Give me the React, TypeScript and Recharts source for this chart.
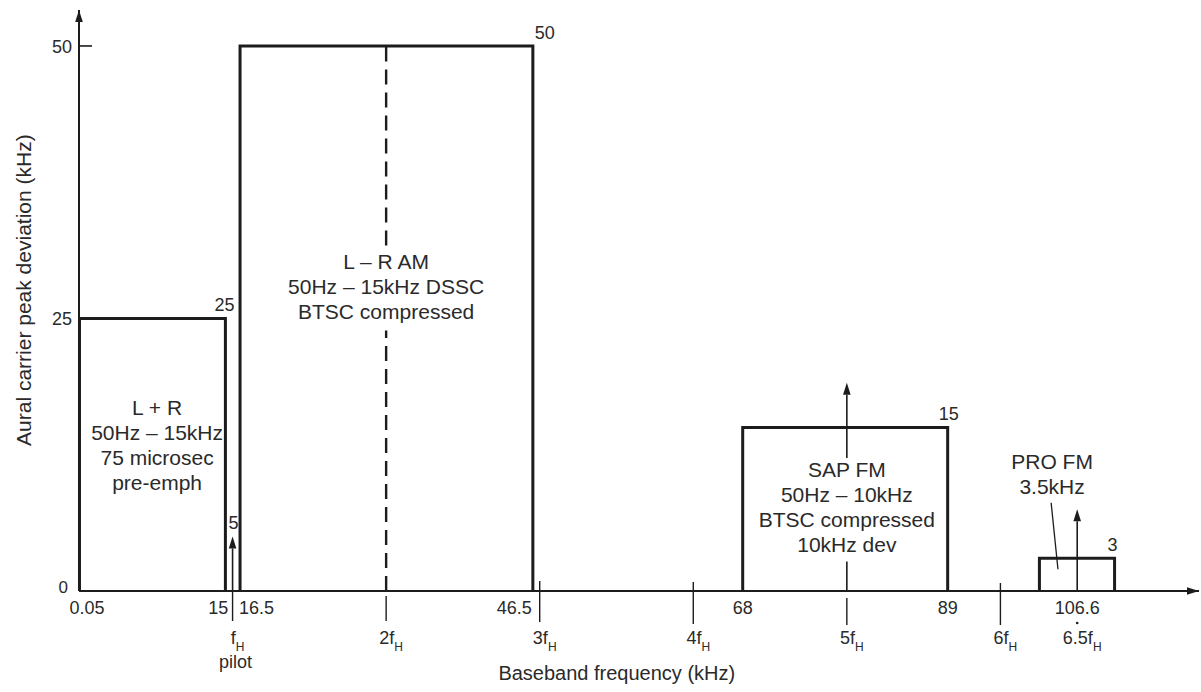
import React from 'react';
import { ComposedChart, XAxis, YAxis, Scatter, ReferenceLine, ReferenceDot } from 'recharts';

// horizontal line frequency (kHz)
const FH = 15.734;

// spectrum blocks: band edges (kHz) and peak deviation (kHz)
const blockStart = [0.05, 16.5, 68, 98.4];
const blockEnd = [15, 46.5, 89, 106.1];
const blockDeviation = [25, 50, 15, 3];
const blockText = [
  ['L + R', '50Hz – 15kHz', '75 microsec', 'pre-emph'],
  ['L – R AM', '50Hz – 15kHz DSSC', 'BTSC compressed'],
  ['SAP FM', '50Hz – 10kHz', 'BTSC compressed', '10kHz dev'],
  ['PRO FM', '3.5kHz'],
];

// pilot and sub-carrier arrows (harmonic of fH, arrow height)
const pilotDeviation = 5;
const carrierHarmonic = [1, 5, 6.5];
const carrierHeight = [pilotDeviation, 19.1, 7.5];

// axis ticks
const edgeTicks = [0.05, 15, 16.5, 46.5, 68, 89];
const edgeTickLabels = ['0.05', '15', '16.5', '46.5', '68', '89'];
const harmonicTicks = [1, 2, 3, 4, 5, 6, 6.5];
const harmonicTickLabels = ['f', '2f', '3f', '4f', '5f', '6f', '6.5f'];
const proCarrierLabel = '106.6';
const yTicks = [0, 25, 50];

const W = 1201;
const H = 692;
const X_MAX = 114.75;
const Y_MAX = 53.3;
const INK = '#1c1c1c';
const TEXT = '#2a2a2a';
const FONT = '"Liberation Sans", Arial, Helvetica, sans-serif';

// layout of the annotations (data coords)
const notePos = [[8.0, 16.8], [2 * FH, 30.2], [5 * FH, 11.1], [99.7, 11.8]];
const cornerDx = [-1, 12, 1, -2];
const dashGap = [23.9, 31.7];
const sapGap = [2.7, 12.2];
const leader = [{ x: 99.6, y: 8.1 }, { x: 100.3, y: 2.0 }];
// tick mark extent below(+)/above(-) the axis, px
const harmonicMark = [[0, 30], [5, 30], [-10, 31], [-9, 33], [7, 34], [-8, 34], [0, 0]];

const near = (a: number, b: number) => Math.abs(a - b) < 1e-6;

const XTick = (props: any) => {
  const { x, y, payload } = props;
  const v = payload.value;
  const ei = edgeTicks.findIndex((e) => near(e, v));
  if (ei >= 0) {
    const label = edgeTickLabels[ei];
    let anchor: 'start' | 'middle' | 'end' = 'middle';
    let dx = 0;
    if (ei === 0) { anchor = 'start'; dx = -10; }
    if (ei === 1) { anchor = 'end'; dx = 3; }
    if (ei === 2) { anchor = 'start'; dx = -1; }
    if (ei === 3) { anchor = 'end'; dx = -1; }
    return (
      <text x={x + dx} y={y + 23} textAnchor={anchor} fontSize={18} fontFamily={FONT} fill={TEXT}>
        {label}
      </text>
    );
  }
  const hi = harmonicTicks.findIndex((h) => near(h * FH, v));
  if (hi < 0) return null;
  const [t0, t1] = harmonicMark[hi];
  return (
    <g>
      {t1 > t0 ? (
        <line x1={x} y1={y + t0} x2={x} y2={y + t1} stroke={INK} strokeWidth={1.4} />
      ) : (
        <circle cx={x} cy={y + 32} r={1.3} fill={INK} />
      )}
      <text x={x + 5} y={y + 53} textAnchor="middle" fontSize={18} fontFamily={FONT} fill={TEXT}>
        <tspan>{harmonicTickLabels[hi]}</tspan>
        <tspan dy={7} fontSize={12}>H</tspan>
      </text>
      {hi === 0 && (
        <text x={x + 3} y={y + 77} textAnchor="middle" fontSize={18} fontFamily={FONT} fill={TEXT}>
          pilot
        </text>
      )}
      {hi === 6 && (
        <text x={x} y={y + 23} textAnchor="middle" fontSize={18} fontFamily={FONT} fill={TEXT}>
          {proCarrierLabel}
        </text>
      )}
    </g>
  );
};

const YTick = (props: any) => {
  const { x, y, payload } = props;
  const v = payload.value;
  if (v === 0) {
    return (
      <text x={x - 11} y={y + 2} textAnchor="end" fontSize={17} fontFamily={FONT} fill={TEXT}>
        0
      </text>
    );
  }
  return (
    <g>
      {v === 50 && <line x1={x} y1={y} x2={x + 13} y2={y} stroke={INK} strokeWidth={1.6} />}
      <text x={x - 7} y={y + 7} textAnchor="end" fontSize={18} fontFamily={FONT} fill={TEXT}>
        {v}
      </text>
    </g>
  );
};

const arrowShape = (p: any) => {
  const { x1, y1, x2, y2 } = p;
  const dx = x2 - x1;
  const dy = y2 - y1;
  const len = Math.hypot(dx, dy) || 1;
  const ux = dx / len;
  const uy = dy / len;
  const L = 12;
  const w = 3.8;
  const bx = x2 - ux * L;
  const by = y2 - uy * L;
  return (
    <g>
      <line x1={x1} y1={y1} x2={bx} y2={by} stroke={INK} strokeWidth={1.6} />
      <polygon
        points={`${x2},${y2} ${bx - uy * w},${by + ux * w} ${bx + uy * w},${by - ux * w}`}
        fill={INK}
      />
    </g>
  );
};

const noteShape = (lines: string[]) => (p: any) => (
  <text x={p.cx} y={p.cy} textAnchor="middle" fontSize={21} fontFamily={FONT} fill={TEXT}>
    {lines.map((l, i) => (
      <tspan key={i} x={p.cx} dy={i === 0 ? 7 : 25}>
        {l}
      </tspan>
    ))}
  </text>
);

const cornerShape = (label: string, dx: number) => (p: any) => (
  <text x={p.cx + dx} y={p.cy - 7} textAnchor="middle" fontSize={18} fontFamily={FONT} fill={TEXT}>
    {label}
  </text>
);

const App = () => {
  const boxes = blockStart.map((s, i) => [
    { x: s, y: 0 },
    { x: s, y: blockDeviation[i] },
    { x: blockEnd[i], y: blockDeviation[i] },
    { x: blockEnd[i], y: 0 },
  ]);
  const xTicks = [...edgeTicks, ...harmonicTicks.map((h) => h * FH)].sort((a, b) => a - b);

  return (
    <div style={{ position: 'absolute', left: 0, top: 0, width: W, height: H, overflow: 'hidden', background: '#fff' }}>
      <ComposedChart width={W} height={H} margin={{ top: 10, right: 2, bottom: 0, left: 0 }}>
        <XAxis
          type="number"
          dataKey="x"
          domain={[0, X_MAX]}
          ticks={xTicks}
          interval={0}
          height={101}
          tickSize={0}
          tickMargin={0}
          tickLine={false}
          axisLine={{ stroke: INK, strokeWidth: 2 }}
          tick={<XTick />}
        />
        <YAxis
          type="number"
          dataKey="y"
          domain={[0, Y_MAX]}
          ticks={yTicks}
          interval={0}
          width={79}
          tickSize={0}
          tickMargin={0}
          tickLine={false}
          axisLine={{ stroke: INK, strokeWidth: 2 }}
          tick={<YTick />}
        />

        {boxes.map((pts, i) => (
          <Scatter
            key={i}
            data={pts}
            line={{ stroke: INK, strokeWidth: 3 }}
            shape={() => <g />}
            isAnimationActive={false}
          />
        ))}

        {/* dashed carrier of L-R, broken around the text */}
        <ReferenceLine
          segment={[{ x: 2 * FH, y: 0 }, { x: 2 * FH, y: dashGap[0] }]}
          stroke={INK}
          strokeWidth={2.4}
          strokeDasharray="15 8"
        />
        <ReferenceLine
          segment={[{ x: 2 * FH, y: dashGap[1] }, { x: 2 * FH, y: blockDeviation[1] }]}
          stroke={INK}
          strokeWidth={2.4}
          strokeDasharray="15 8"
        />

        {/* carrier arrows */}
        <ReferenceLine
          segment={[{ x: carrierHarmonic[0] * FH, y: 0 }, { x: carrierHarmonic[0] * FH, y: carrierHeight[0] }]}
          shape={arrowShape}
        />
        <ReferenceLine
          segment={[{ x: carrierHarmonic[1] * FH, y: 0 }, { x: carrierHarmonic[1] * FH, y: sapGap[0] }]}
          stroke={INK}
          strokeWidth={1.6}
        />
        <ReferenceLine
          segment={[{ x: carrierHarmonic[1] * FH, y: sapGap[1] }, { x: carrierHarmonic[1] * FH, y: carrierHeight[1] }]}
          shape={arrowShape}
        />
        <ReferenceLine
          segment={[{ x: carrierHarmonic[2] * FH, y: 0 }, { x: carrierHarmonic[2] * FH, y: carrierHeight[2] }]}
          shape={arrowShape}
        />
        <ReferenceLine segment={leader} stroke={INK} strokeWidth={1.3} />

        {/* axis arrow heads */}
        <ReferenceLine segment={[{ x: 0, y: Y_MAX - 1.2 }, { x: 0, y: Y_MAX }]} shape={arrowShape} ifOverflow="visible" />
        <ReferenceLine segment={[{ x: X_MAX - 1.2, y: 0 }, { x: X_MAX, y: 0 }]} shape={arrowShape} ifOverflow="visible" />

        {/* block texts */}
        {blockText.map((lines, i) => (
          <ReferenceDot key={`n${i}`} x={notePos[i][0]} y={notePos[i][1]} r={0} shape={noteShape(lines)} ifOverflow="visible" />
        ))}

        {/* corner values */}
        {blockEnd.map((e, i) => (
          <ReferenceDot
            key={`c${i}`}
            x={e}
            y={blockDeviation[i]}
            r={0}
            shape={cornerShape(String(blockDeviation[i]), cornerDx[i])}
            ifOverflow="visible"
          />
        ))}
        <ReferenceDot
          x={carrierHarmonic[0] * FH}
          y={pilotDeviation}
          r={0}
          shape={cornerShape(String(pilotDeviation), 1)}
          ifOverflow="visible"
        />

        {/* axis titles */}
        <ReferenceDot
          x={55.1}
          y={-8.2}
          r={0}
          ifOverflow="visible"
          shape={(p: any) => (
            <text x={p.cx} y={p.cy} textAnchor="middle" fontSize={20} fontFamily={FONT} fill={TEXT}>
              Baseband frequency (kHz)
            </text>
          )}
        />
        <ReferenceDot
          x={-5.6}
          y={27.6}
          r={0}
          ifOverflow="visible"
          shape={(p: any) => (
            <text
              x={p.cx + 7}
              y={p.cy}
              transform={`rotate(-90 ${p.cx + 7} ${p.cy})`}
              textAnchor="middle"
              fontSize={21}
              fontFamily={FONT}
              fill={TEXT}
            >
              Aural carrier peak deviation (kHz)
            </text>
          )}
        />
      </ComposedChart>
    </div>
  );
};

export default App;
